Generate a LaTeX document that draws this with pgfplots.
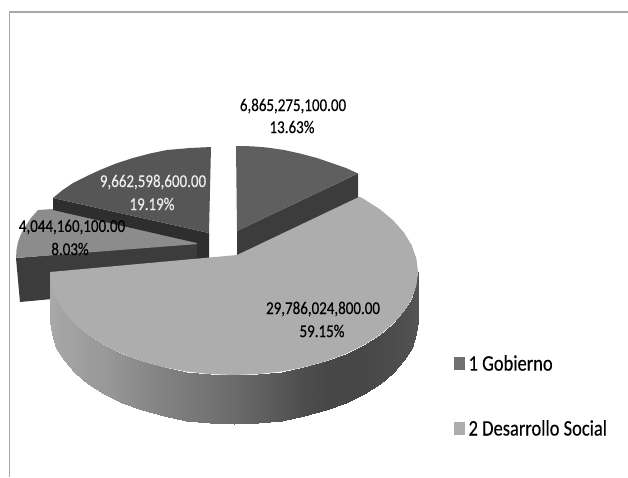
\documentclass[border=0pt]{standalone}
\usepackage{pgfplots}
\pgfplotsset{compat=1.18}
\usepackage{fontspec}
\setmainfont{Carlito}
\newfontfamily\lab{Carlito}[FakeBold=0.35]
\definecolor{gob}{HTML}{5F5F5F}
\definecolor{gobside}{HTML}{3C3C3C}
\definecolor{bslice}{HTML}{565656}
\definecolor{bside}{HTML}{2E2E2E}
\definecolor{cslice}{HTML}{8C8C8C}
\definecolor{cside}{HTML}{3C3C3C}
\definecolor{des}{HTML}{ADADAD}
\definecolor{frame}{HTML}{A8A8A8}
\newcommand{\tall}[1]{\scalebox{1}[1.2]{#1}}
\tikzset{lbl/.style={font=\lab\fontsize{15}{15}\selectfont}}
\begin{document}
\begin{tikzpicture}
\begin{axis}[
  scale only axis, width=628pt, height=477pt,
  xmin=0, xmax=628, ymin=0, ymax=477, y dir=reverse,
  axis lines=none, colormap/blackwhite,
  point meta min=0, point meta max=1,
  legend style={at={(axis cs:454,353)},anchor=north west,draw=none,fill=none,
    font=\lab\fontsize{18.5}{18.5}\selectfont,row sep=44pt,inner sep=0pt},
  legend cell align=left,
]
\addplot[fill=white,draw=none,forget plot] coordinates {(0,0)(628,0)(628,477)(0,477)} -- cycle;
\addplot[frame,line width=1.5pt,forget plot] coordinates {(9.7,477)(9.7,12)(628,12)};
% slice C: top and side
\addplot[fill=cside,draw=none,forget plot] coordinates {(16,258)(198,243)(198,261)(52,273)(52,299)(20,302)(18,280)} -- cycle;
\addplot[fill=cslice,draw=none,forget plot] coordinates {(38,210)(53,209)(198,241)(198,244)(16,258)(16.5,250)(18,242)(21,234)(25,227)(31,218)} -- cycle;
% slice B
\addplot[fill=bside,draw=none,forget plot] coordinates {(53,198)(209,233)(209,260)(197,260)(197,243)(53,210)} -- cycle;
\addplot[fill=bslice,draw=none,forget plot] coordinates {(211,147)(190,148)(167,150)(150,153.5)(133,158)(116,163.5)(100,170)(86,176.5)(73,183)(62,190.5)(53,198)(209,233)} -- cycle;
% slice A
\addplot[fill=gobside,draw=none,forget plot] coordinates {(237,231)(358,173.5)(358,198)(237,257)} -- cycle;
\addplot[fill=gob,draw=none,forget plot] coordinates {(236,146)(252,146.3)(267,147.5)(284,150)(300,153.5)(317,158)(333,163.5)(346,168)(358,173.5)(237,231)} -- cycle;
% big slice side
\addplot[surf,shader=interp,mesh/rows=2,mesh/ordering=x varies,point meta=explicit,forget plot] table[meta=c] {
x y c
50 272 .66
51.6 285.4 .66
56.3 298.7 .65
64 311.4 .64
74.7 323.5 .63
88 334.7 .61
103.9 344.8 .60
122 353.7 .57
142 361.2 .54
163.6 367.2 .51
186.4 371.5 .48
210 374.1 .45
234 375 .42
258 374.1 .38
281.6 371.5 .34
304.4 367.2 .30
326 361.2 .28
346 353.7 .28
364.1 344.8 .28
380 334.7 .29
393.3 323.5 .30
404 311.4 .31
411.7 298.7 .32
416.4 285.4 .33
418 272 .33
50 321 .66
51.6 334.4 .66
56.3 347.7 .65
64 360.4 .64
74.7 372.5 .63
88 383.7 .61
103.9 393.8 .60
122 402.7 .57
142 410.2 .54
163.6 416.2 .51
186.4 420.5 .48
210 423.1 .45
234 424 .42
258 423.1 .38
281.6 420.5 .34
304.4 416.2 .30
326 410.2 .28
346 402.7 .28
364.1 393.8 .28
380 383.7 .29
393.3 372.5 .30
404 360.4 .31
411.7 347.7 .32
416.4 334.4 .33
418 321 .33
};
% big slice top
\addplot[fill=des,draw=none,forget plot] coordinates {(237,255)(359.5,196.7)(364.1,199.2)(380,209.3)(393.3,220.5)(404,232.6)(411.7,245.3)(416.4,258.6)(418,272)(416.4,285.4)(411.7,298.7)(404,311.4)(393.3,323.5)(380,334.7)(364.1,344.8)(346,353.7)(326,361.2)(304.4,367.2)(281.6,371.5)(258,374.1)(234,375)(210,374.1)(186.4,371.5)(163.6,367.2)(142,361.2)(122,353.7)(103.9,344.8)(88,334.7)(74.7,323.5)(64,311.4)(56.3,298.7)(51.6,285.4)(50,272)} -- cycle;
\addlegendimage{legend image code/.code={\fill[gob!90!white] (0pt,-6pt) rectangle (10pt,6pt);}}
\addlegendentry{\hspace*{2pt}\tall{1 Gobierno}}
\addlegendimage{legend image code/.code={\fill[des] (0pt,-6pt) rectangle (10pt,6pt);}}
\addlegendentry{\hspace*{2pt}\tall{2 Desarrollo Social}}
\node[lbl,text=black] at (axis cs:293,106) {\tall{6,865,275,100.00}};
\node[lbl,text=black] at (axis cs:292,127) {\tall{13.63\%}};
\node[lbl,text=white!93!black] at (axis cs:153,182) {\tall{9,662,598,600.00}};
\node[lbl,text=white!93!black] at (axis cs:152,204) {\tall{19.19\%}};
\node[lbl,text=black] at (axis cs:72,227) {\tall{4,044,160,100.00}};
\node[lbl,text=black] at (axis cs:70,249) {\tall{8.03\%}};
\node[lbl,text=black] at (axis cs:323,309) {\tall{29,786,024,800.00}};
\node[lbl,text=black] at (axis cs:322,331) {\tall{59.15\%}};
\end{axis}
\end{tikzpicture}
\end{document}
